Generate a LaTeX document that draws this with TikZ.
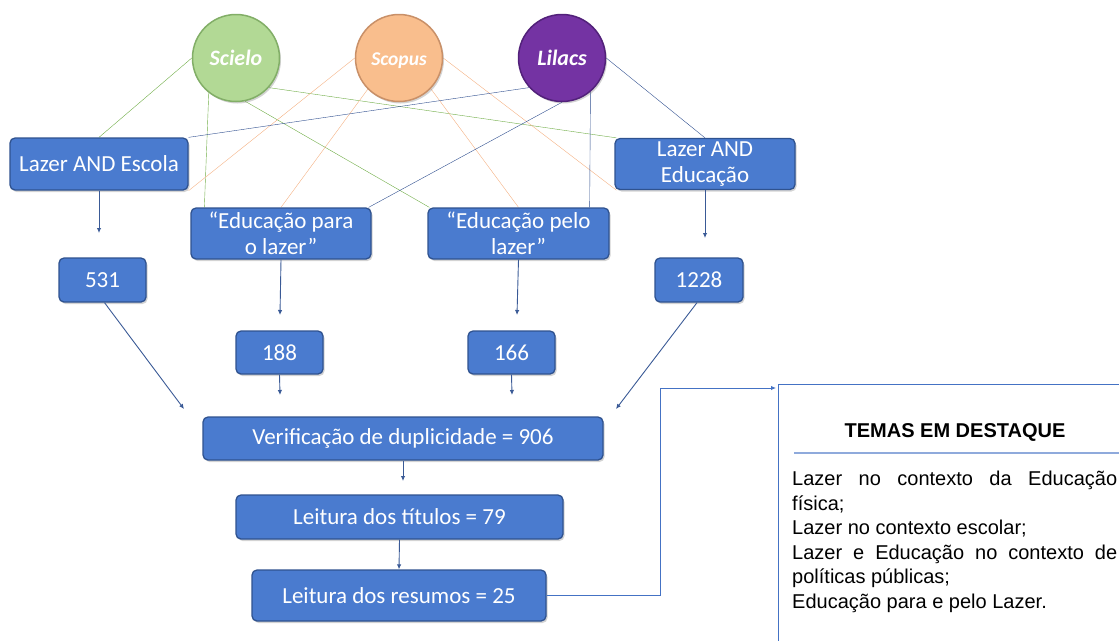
\documentclass[tikz,border=0pt]{standalone}
\usepackage{fontspec}
\usetikzlibrary{arrows.meta,shadows,backgrounds}
\newfontfamily\boxfont{Carlito}
\newfontfamily\panelfont{Liberation Sans}
\definecolor{boxfill}{HTML}{4A7BCF}
\definecolor{boxline}{HTML}{2F528F}
\definecolor{scielofill}{HTML}{B2D995}
\definecolor{scieloline}{HTML}{82AE67}
\definecolor{scopusfill}{HTML}{F9BE8D}
\definecolor{scopusline}{HTML}{C99068}
\definecolor{lilacsfill}{HTML}{7433A3}
\definecolor{lilacsline}{HTML}{52217A}
\definecolor{greenlink}{HTML}{70AD47}
\definecolor{orangelink}{HTML}{F4B183}
\definecolor{bluelink}{HTML}{2F4F8F}
\definecolor{arrowblue}{HTML}{3A5A96}
\definecolor{panelline}{HTML}{4472C4}
\definecolor{rulecolor}{HTML}{8FAADC}
\hyphenpenalty=10000
\tolerance=10000
\tikzset{
  stage/.style={draw=boxline, fill=boxfill, line width=1.3pt, rounded corners=5pt,
    text=white, font=\boxfont\fontsize{23}{26}\selectfont, align=center, inner sep=2pt,
    drop shadow={shadow xshift=1.5pt, shadow yshift=-2pt, opacity=0.35}},
  dbcircle/.style={circle, minimum size=87pt, line width=1.5pt, text=white, inner sep=0pt,
    text height=15pt, text depth=0pt,
    font=\boxfont\bfseries\itshape\fontsize{22}{26}\selectfont,
    drop shadow={shadow xshift=1.5pt, shadow yshift=-2pt, opacity=0.35}},
  link/.style={line width=1pt},
  flow/.style={draw=arrowblue, line width=0.9pt, -{Latex[length=5pt,width=4.5pt]}},
}
\begin{document}
\begin{tikzpicture}[x=1pt, y=-1pt]
      \useasboundingbox (0,0) rectangle (1119,640);
      %
      \node[dbcircle, fill=scielofill, draw=scieloline] (scielo) at (236,58) {Scielo};  % databases
      \node[dbcircle, fill=scopusfill, draw=scopusline, font=\boxfont\bfseries\itshape\fontsize{19.5}{22}\selectfont] (scopus) at (399,58) {Scopus};
      \node[dbcircle, fill=lilacsfill, draw=lilacsline] (lilacs) at (562,58) {Lilacs};
      %
      \node[stage, minimum width=178pt, minimum height=52pt] (escola) at (99,164) {Lazer AND Escola};   % search terms
      \node[stage, minimum width=180pt, minimum height=51pt] (educ) at (705,164) {Lazer AND\\Educação};
      \node[stage, minimum width=180pt, minimum height=51pt] (para) at (281,233.5) {“Educação para\\o lazer”};
      \node[stage, minimum width=181pt, minimum height=51pt] (pelo) at (518.5,233.5) {“Educação pelo\\lazer”};
      %
      \node[stage, minimum width=87pt, minimum height=44pt] (n531) at (102.5,280) {531};   % counts
      \node[stage, minimum width=88pt, minimum height=44pt] (n1228) at (699,280) {1228};
      \node[stage, minimum width=87pt, minimum height=43pt] (n188) at (279.5,352.5) {188};
      \node[stage, minimum width=87pt, minimum height=43pt] (n166) at (511.5,352.5) {166};
      %
      \node[stage, minimum width=400pt, minimum height=43pt] (verif) at (403,438.5) {Verificação de duplicidade = 906};   % screening
      \node[stage, minimum width=327pt, minimum height=44pt] (titulos) at (399.5,517) {Leitura dos títulos = 79};
      \node[stage, minimum width=294pt, minimum height=51pt] (resumos) at (399,595.5) {Leitura dos resumos = 25};
      %
      \node[draw=panelline, line width=1pt, anchor=north west, minimum width=360pt, minimum height=270pt, inner sep=0pt] (panel) at (778,384) {};   % themes
      \node[font=\panelfont\bfseries\fontsize{20}{24}\selectfont] (temas) at (955,432) {TEMAS EM DESTAQUE};
      \draw[rulecolor, line width=1.2pt] (794,453) -- (1125,453);
      \node[font=\panelfont\fontsize{20}{24.5}\selectfont, anchor=north west, inner sep=0pt, text width=325pt, align=justify] (lista) at (792,471)
        {Lazer no contexto da Educação física;\par
         Lazer no contexto escolar;\par
         Lazer e Educação no contexto de políticas públicas;\par
         Educação para e pelo Lazer.};
      %
      \begin{scope}[on background layer, link]
        \draw[greenlink] (scielo.180) -- (escola.north);               % Scielo
        \draw[greenlink] (scielo.232) -- ([xshift=14pt]para.north west);
        \draw[greenlink] (scielo.-78) -- ([xshift=2pt]pelo.north west);
        \draw[greenlink] (scielo.-42) -- ([xshift=2pt]educ.north west);
        %
        \draw[orangelink] (scopus.180) -- (escola.south east);         % Scopus
        \draw[orangelink] (scopus.225) -- (para.north);
        \draw[orangelink] (scopus.-44) -- (pelo.north);
        \draw[orangelink] (scopus.0) -- ([xshift=2pt]educ.south west);
        %
        \draw[bluelink] (lilacs.222) -- (escola.north east);           % Lilacs
        \draw[bluelink] (lilacs.-90) -- ([xshift=-3pt]para.north east);
        \draw[bluelink] (lilacs.-50) -- ([xshift=-20pt]pelo.north east);
        \draw[bluelink] (lilacs.0) -- (educ.north);
      \end{scope}
      %
      \coordinate (e531) at (99,233);     % free arrow ends
      \coordinate (e1228) at (705,238);
      \coordinate (e188) at (280,315);
      \coordinate (e166) at (517,315);
      \coordinate (f188) at (280,395);
      \coordinate (f166) at (512,395);
      \coordinate (f531) at (184,409);
      \coordinate (f1228) at (616,409);
      \coordinate (fverif) at (403,481);
      \coordinate (turn) at (660,388);
      %
      \draw[flow] (escola.south) -- (e531);
      \draw[flow] (educ.south) -- (e1228);
      \draw[flow] (para.south) -- (e188);
      \draw[flow] (pelo.south) -- (e166);
      \draw[flow] (n188.south) -- (f188);
      \draw[flow] (n166.south) -- (f166);
      \draw[flow] ([xshift=2pt]n531.south) -- (f531);
      \draw[flow] ([xshift=-2pt]n1228.south) -- (f1228);
      \draw[flow] (verif.south) -- (fverif);
      \draw[flow] (titulos.south) -- (resumos.north);
      \draw[flow, draw=panelline] (resumos.east) -| (turn) -- ([xshift=-2pt, yshift=-4pt]panel.north west);
      %
    \end{tikzpicture}
\end{document}
